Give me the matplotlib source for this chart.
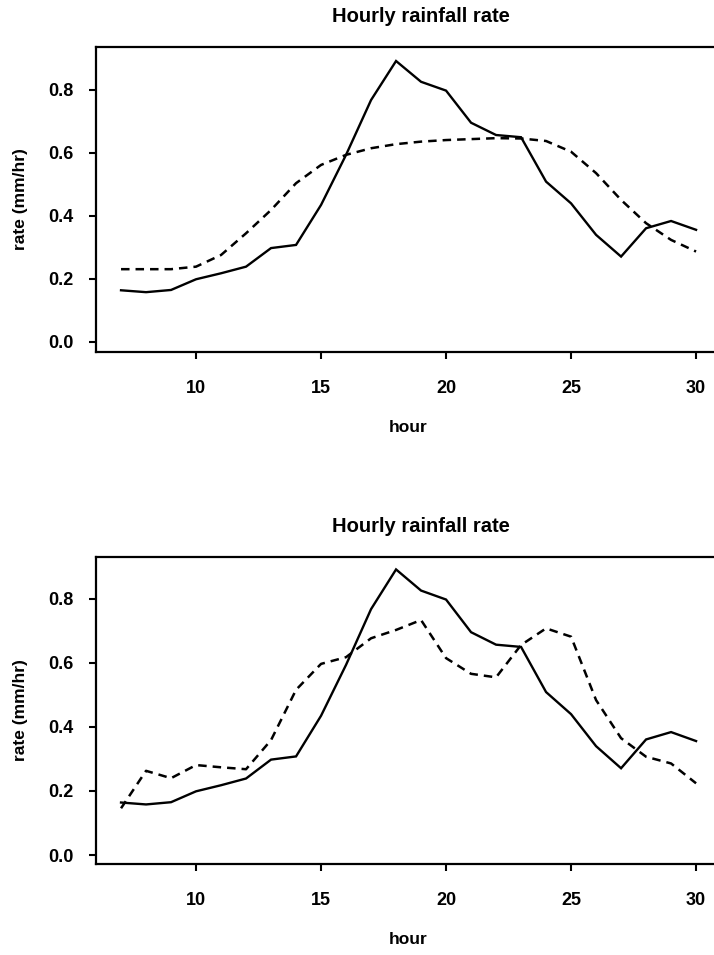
import matplotlib
matplotlib.use("Agg")
import matplotlib.pyplot as plt

plt.rcParams['font.family'] = ['Liberation Sans', 'DejaVu Sans']
plt.rcParams['font.weight'] = 'bold'

hours = list(range(7, 31))

observed = [0.164, 0.158, 0.165, 0.199, 0.218, 0.239, 0.298, 0.308, 0.435, 0.594,
            0.768, 0.892, 0.826, 0.798, 0.696, 0.657, 0.650, 0.509, 0.440, 0.340,
            0.271, 0.361, 0.384, 0.356]

smooth_fit = [0.231, 0.231, 0.231, 0.239, 0.276, 0.345, 0.419, 0.504, 0.562, 0.594,
              0.615, 0.628, 0.636, 0.641, 0.644, 0.647, 0.646, 0.638, 0.604, 0.536,
              0.451, 0.377, 0.324, 0.287]

rough_fit = [0.146, 0.263, 0.240, 0.281, 0.274, 0.268, 0.359, 0.516, 0.597, 0.618,
             0.677, 0.703, 0.734, 0.615, 0.566, 0.555, 0.656, 0.708, 0.682, 0.484,
             0.365, 0.307, 0.286, 0.224]

xticks = [10, 15, 20, 25, 30]
yticks = [0.0, 0.2, 0.4, 0.6, 0.8]
title = "Hourly rainfall rate"
xlabel = "hour"
ylabel = "rate (mm/hr)"

fig = plt.figure(figsize=(7.14, 9.55), dpi=100)

panels = [
    ([0.1345, 0.6314, 0.874, 0.3194], smooth_fit, (-0.032, 0.9365)),
    ([0.1345, 0.0953, 0.874, 0.3215], rough_fit, (-0.028, 0.931)),
]

for rect, fitted, ylim in panels:
    ax = fig.add_axes(rect)
    ax.plot(hours, observed, color='black', lw=1.7, solid_joinstyle='miter')
    ax.plot(hours, fitted, color='black', lw=1.8, linestyle=(0, (3.4, 2.4)))
    ax.set_xlim(6.0, 30.96)
    ax.set_ylim(*ylim)
    ax.set_xticks(xticks)
    ax.set_yticks(yticks)
    ax.set_yticklabels([f"{v:.1f}" for v in yticks])
    for s in ax.spines.values():
        s.set_linewidth(1.6)
    ax.tick_params(direction='out', length=5, width=1.5, labelsize=13)
    ax.tick_params(axis='x', pad=15)
    ax.tick_params(axis='y', pad=11)
    ax.set_title(title, fontsize=14.5, fontweight='bold', pad=18, x=0.521)
    ax.set_xlabel(xlabel, fontsize=12.5, fontweight='bold', labelpad=17)
    ax.set_ylabel(ylabel, fontsize=12.5, fontweight='bold', labelpad=15)

fig.savefig("out.png", dpi=100)
